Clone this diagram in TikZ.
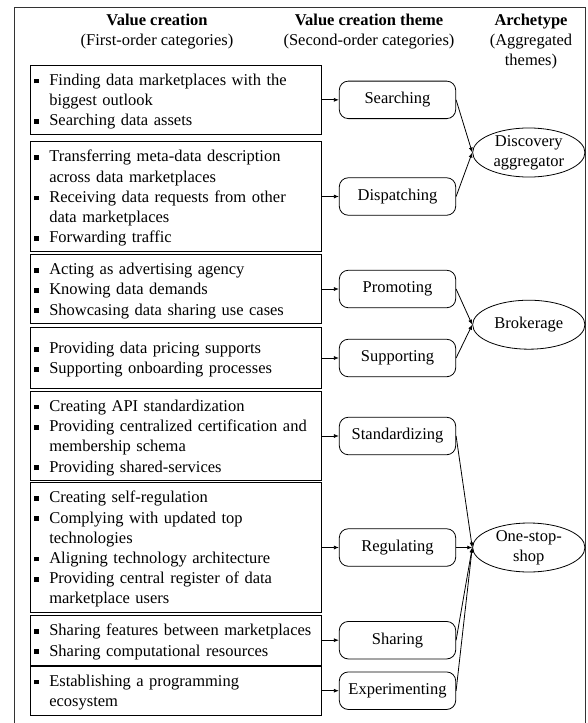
\documentclass[tikz,border=0pt]{standalone}
\usepackage{fontspec}
\setmainfont{Liberation Serif}
\usetikzlibrary{arrows.meta,shapes.geometric}
\newcommand{\basefont}{\fontsize{16.5}{20.2}\selectfont}
\newcommand{\bitem}{\par\hyphenpenalty=10000\relax\exhyphenpenalty=10000\relax\noindent\hangindent=19.3pt\hangafter=1\makebox[19.3pt][l]{\hspace{4pt}\rule[2.1pt]{4.6pt}{4.6pt}}\ignorespaces}
\newcommand{\bstop}{\par\kern5pt\relax}
\begin{document}
\begin{tikzpicture}[x=1pt,y=-1pt, font=\basefont,
 catbox/.style={draw=black, line width=0.9pt, text width=291pt, inner xsep=0pt, inner ysep=0pt, align=left, font=\basefont},
 theme/.style={draw=black, line width=0.8pt, rounded corners=9pt, minimum width=116.4pt, minimum height=37.5pt, inner sep=0pt, font=\basefont},
 arch/.style={ellipse, draw=black, line width=0.8pt, minimum width=112.3pt, minimum height=49pt, inner sep=0pt, align=center, font=\basefont},
 conn/.style={line width=0.8pt, -{Latex[length=5pt,width=4pt]}},
 head/.style={anchor=base, inner sep=0pt, font=\basefont},
 headb/.style={anchor=base, inner sep=0pt, font=\basefont\bfseries}]
\useasboundingbox (0,0) rectangle (587,723);
\draw[line width=1pt, draw=black!80] (14,730) -- (14,7) -- (585.5,7) -- (585.5,730);

% headers
\node[headb] (h1a) at (157,25.5) {Value creation};
\node[head]  (h1b) at (157,45) {(First-order categories)};
\node[headb] (h2a) at (369,25.5) {Value creation theme};
\node[head]  (h2b) at (369,45) {(Second-order categories)};
\node[headb] (h3a) at (531,25.5) {Archetype};
\node[head]  (h3b) at (531,45) {(Aggregated};
\node[head]  (h3c) at (531,65) {themes)};

% first-order boxes
\node[catbox, minimum height=69.7pt] (b1) at (175.5,99.85) {\bitem Finding data marketplaces with the\newline biggest outlook\par\bitem Searching data assets\bstop};
\node[catbox, minimum height=107pt] (b2) at (175.5,196.5) {\bitem Transferring meta-data description\newline across data marketplaces\par\bitem Receiving data requests from other\newline data marketplaces\par\bitem Forwarding traffic\bstop};
\node[catbox, minimum height=69.3pt] (b3) at (175.5,289) {\bitem Acting as advertising agency\par\bitem Knowing data demands\par\bitem Showcasing data sharing use cases\bstop};
\node[catbox, minimum height=61pt] (b4) at (175.5,358) {\bitem Providing data pricing supports\par\bitem Supporting onboarding processes\bstop};
\node[catbox, minimum height=85pt] (b5) at (175.5,436) {\bitem Creating API standardization\par\bitem Providing centralized certification and\newline membership schema\par\bitem Providing shared-services\bstop};
\node[catbox, minimum height=127.7pt] (b6) at (175.5,547.5) {\bitem Creating self-regulation\par\bitem Complying with updated top\newline technologies\par\bitem Aligning technology architecture\par\bitem Providing central register of data\newline marketplace users\bstop};
\node[catbox, minimum height=50pt] (b7) at (175.5,640.2) {\bitem Sharing features between marketplaces\par\bitem Sharing computational resources\bstop};
\node[catbox, minimum height=40pt] (b8) at (175.5,690.7) {\bitem Establishing a programming\newline ecosystem\bstop};

% themes
\node[theme] (t1) at (397.5,99.85) {Searching};
\node[theme] (t2) at (397.5,196.5) {Dispatching};
\node[theme] (t3) at (397.5,289) {Promoting};
\node[theme] (t4) at (397.5,358) {Supporting};
\node[theme] (t5) at (397.5,436) {Standardizing};
\node[theme] (t6) at (397.5,547.5) {Regulating};
\node[theme] (t7) at (397.5,640.2) {Sharing};
\node[theme] (t8) at (397.5,690.7) {Experimenting};

% archetypes
\node[arch] (a1) at (528.8,152.5) {Discovery\\aggregator};
\node[arch] (a2) at (528.8,324.7) {Brokerage};
\node[arch] (a3) at (528.8,547.5) {One-stop-\\shop};

\foreach \i in {1,...,8} {\draw[conn] (b\i) -- (t\i);}
\draw[conn] (t1.east) -- (a1.west);
\draw[conn] (t2.east) -- (a1.west);
\draw[conn] (t3.east) -- (a2.west);
\draw[conn] (t4.east) -- (a2.west);
\draw[conn] (t5.east) -- (a3.west);
\draw[conn] (t6.east) -- (a3.west);
\draw[conn] (t7.east) -- (a3.west);
\draw[conn] (t8.east) -- (a3.west);
\end{tikzpicture}
\end{document}
